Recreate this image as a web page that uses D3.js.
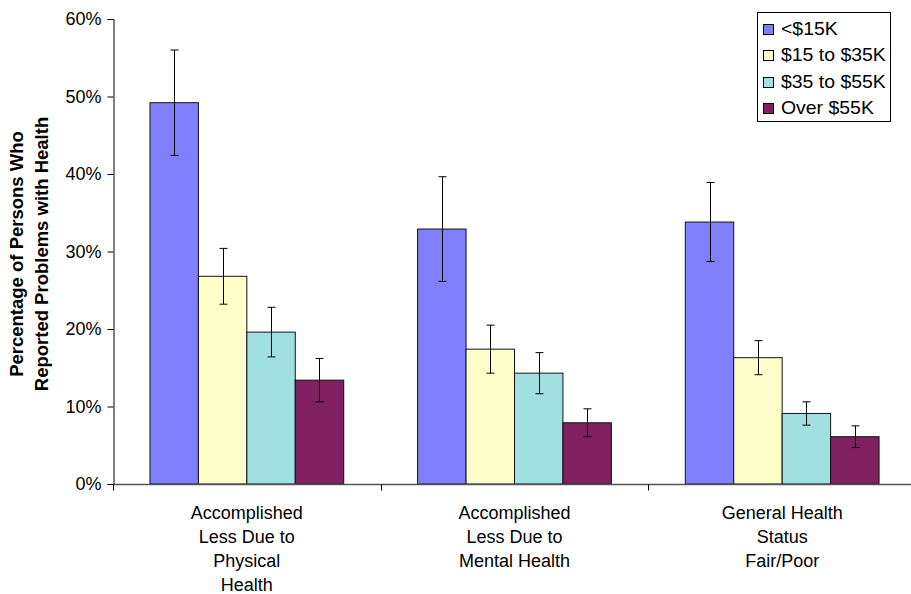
<!DOCTYPE html>
<html><head><meta charset="utf-8">
<script src="https://cdn.jsdelivr.net/npm/d3@7"></script>
<style>
body{margin:0;background:#fff;}
svg{display:block;font-family:"Liberation Sans",Arial,sans-serif;}
</style></head>
<body><svg id="c" width="911" height="594"></svg>
<script>
const categories = [
  ["Accomplished","Less Due to","Physical","Health"],
  ["Accomplished","Less Due to","Mental Health"],
  ["General Health","Status","Fair/Poor"]
];
const seriesNames = ["<$15K","$15 to $35K","$35 to $55K","Over $55K"];
const seriesColors = ["#8080FF","#FFFFCC","#A0E0E0","#802060"];
// values per series (percent), one per category
const under15 = [49.2, 32.9, 33.8];
const from15to35 = [26.8, 17.4, 16.3];
const from35to55 = [19.6, 14.3, 9.1];
const over55 = [13.4, 7.9, 6.1];
// error half-widths (percent)
const errUnder15 = [6.8, 6.75, 5.1];
const errFrom15to35 = [3.6, 3.1, 2.2];
const errFrom35to55 = [3.2, 2.65, 1.5];
const errOver55 = [2.8, 1.8, 1.4];
const yTicks = [0,10,20,30,40,50,60];
const yTitle = ["Percentage of Persons Who","Reported Problems with Health"];

const values = [under15, from15to35, from35to55, over55];
const errs = [errUnder15, errFrom15to35, errFrom35to55, errOver55];

const svg = d3.select("#c");
const mLeft = 113, mRight = 916, mTop = 19, mBottom = 484;

const x0 = d3.scaleBand().domain(d3.range(categories.length)).range([mLeft, mRight]).paddingInner(0).paddingOuter(0);
const x1 = d3.scaleBand().domain(d3.range(seriesNames.length)).range([0, x0.bandwidth()]).paddingInner(0).paddingOuter(0.763);
const y = d3.scaleLinear().domain([0, 60]).range([mBottom, mTop]);

// bars
categories.forEach((c, ci) => {
  seriesNames.forEach((s, si) => {
    const v = values[si][ci];
    const bx = x0(ci) + x1(si);
    svg.append("rect")
      .attr("x", bx).attr("y", y(v))
      .attr("width", x1.bandwidth()).attr("height", y(0) - y(v))
      .attr("fill", seriesColors[si]).attr("stroke", "#111").attr("stroke-width", 1);
  });
});
// error bars
categories.forEach((c, ci) => {
  seriesNames.forEach((s, si) => {
    const v = values[si][ci], e = errs[si][ci];
    const cx = Math.round(x0(ci) + x1(si) + x1.bandwidth() / 2) + 0.5;
    const g = svg.append("g").attr("stroke", "#000").attr("stroke-width", 1);
    g.append("line").attr("x1", cx).attr("x2", cx).attr("y1", y(v + e)).attr("y2", y(v - e));
    g.append("line").attr("x1", cx - 4).attr("x2", cx + 4).attr("y1", y(v + e)).attr("y2", y(v + e));
    g.append("line").attr("x1", cx - 4).attr("x2", cx + 4).attr("y1", y(v - e)).attr("y2", y(v - e));
  });
});

// y axis
const yAxis = d3.axisLeft(y).tickValues(yTicks).tickFormat(d => d + "%").tickSize(6).tickPadding(6);
const gy = svg.append("g").attr("transform", `translate(${mLeft + 0.5},0)`).call(yAxis);
gy.select(".domain").attr("stroke", "#000");
gy.selectAll(".tick line").attr("stroke", "#000");
gy.selectAll(".tick text").attr("font-size", 18).attr("fill", "#000").attr("font-family", "Liberation Sans, Arial, sans-serif");

// x axis
const gx = svg.append("g").attr("transform", `translate(0,${mBottom + 0.5})`);
gx.append("line").attr("x1", mLeft).attr("x2", mRight).attr("stroke", "#555").attr("stroke-width", 1.5);
d3.range(categories.length + 1).forEach(i => {
  const tx = Math.round(i < categories.length ? x0(i) : x0(categories.length - 1) + x0.bandwidth()) + 0.5;
  gx.append("line").attr("x1", tx).attr("x2", tx).attr("y1", 0).attr("y2", 6).attr("stroke", "#000");
});
categories.forEach((lines, ci) => {
  const t = gx.append("text").attr("text-anchor", "middle").attr("font-size", 18).attr("fill", "#000");
  lines.forEach((ln, li) => {
    t.append("tspan").attr("x", x0(ci) + x0.bandwidth() / 2).attr("y", 34 + li * 24).text(ln);
  });
});

// y title
const tt = svg.append("text").attr("transform", "translate(0,254) rotate(-90)")
  .attr("text-anchor", "middle").attr("font-weight", "bold").attr("font-size", 18.5).attr("fill", "#000");
yTitle.forEach((ln, li) => {
  tt.append("tspan").attr("x", 0).attr("y", 23 + li * 25).text(ln);
});

// legend
const lg = svg.append("g");
lg.append("rect").attr("x", 757.5).attr("y", 12.5).attr("width", 133).attr("height", 109)
  .attr("fill", "#fff").attr("stroke", "#000");
seriesNames.forEach((s, si) => {
  const cy = 28.5 + si * 26.5;
  lg.append("rect").attr("x", 763.5).attr("y", Math.round(cy - 5) + 0.5).attr("width", 10).attr("height", 10)
    .attr("fill", seriesColors[si]).attr("stroke", "#000");
  lg.append("text").attr("x", 781).attr("y", cy + 6.5).attr("font-size", 18).attr("fill", "#000")
    .attr("transform", `translate(781,0) scale(1.08,1) translate(-781,0)`).text(s);
});
</script></body></html>
